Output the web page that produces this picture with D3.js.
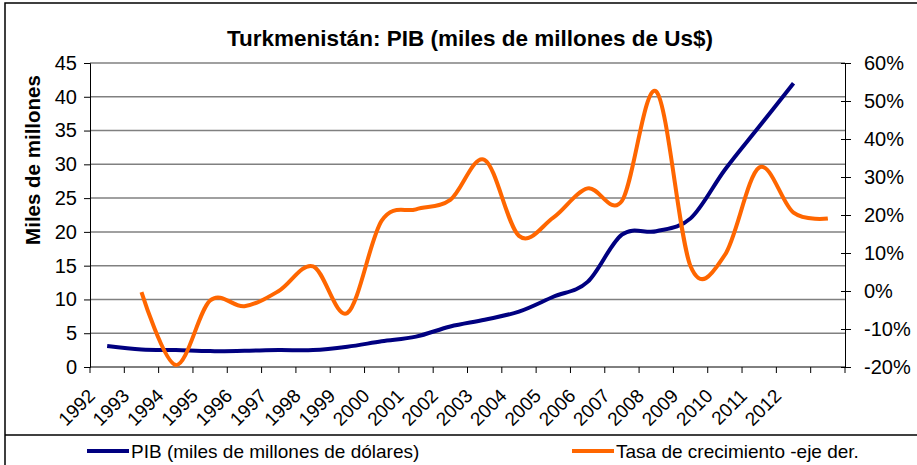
<!DOCTYPE html>
<html>
<head>
<meta charset="utf-8">
<script src="https://cdn.jsdelivr.net/npm/d3@7/dist/d3.min.js"></script>
<style>
  html, body { margin: 0; padding: 0; background: #fff; }
  svg { display: block; font-family: Arial, "Liberation Sans", sans-serif; }
</style>
</head>
<body>
<svg id="chart" width="917" height="465"></svg>
<script>
// Years on the category axis (last category carries no label)
const years = ["1992","1993","1994","1995","1996","1997","1998","1999","2000","2001","2002",
               "2003","2004","2005","2006","2007","2008","2009","2010","2011","2012","2013"];
const yearLabels = years.map(y => y === "2013" ? "" : y);

// GDP, billions of US$ (left axis), 1992–2012
const pib = [3.1, 2.6, 2.5, 2.35, 2.4, 2.5, 2.5, 3.0, 3.8, 4.5, 6.0,
             7.0, 8.2, 10.4, 12.6, 19.6, 20.1, 22.0, 29.2, 35.6, 42.0];

// Growth rate, % (right axis), 1993–2013
const tasa = [-0.3, -19.5, -2.5, -4.0, 0.0, 6.5, -5.8, 18.5, 21.5, 24.0,
              34.5, 14.5, 19.3, 27.0, 23.7, 52.5, 6.5, 9.5, 32.5, 20.6, 19.1];
const tasaYears = years.slice(1);

const leftTicks = [0, 5, 10, 15, 20, 25, 30, 35, 40, 45];
const rightTicks = [-20, -10, 0, 10, 20, 30, 40, 50, 60];

const svg = d3.select("#chart");
const W = 917, H = 465;
const plot = { left: 90, right: 845, top: 63, bottom: 367 };

svg.append("rect").attr("width", W).attr("height", H).attr("fill", "#fff");
// outer chart frame
svg.append("rect").attr("x", 5).attr("y", 3).attr("width", 930).attr("height", 480)
  .attr("fill", "none").attr("stroke", "#000").attr("stroke-width", 1.5);
// legend separator
svg.append("line").attr("x1", 5).attr("x2", W).attr("y1", 435).attr("y2", 435)
  .attr("stroke", "#000").attr("stroke-width", 1.5);

const x = d3.scaleBand().domain(years).range([plot.left, plot.right]).padding(0);
const cx = d => x(d) + x.bandwidth() / 2;
const yL = d3.scaleLinear().domain([0, 45]).range([plot.bottom, plot.top]);
const yR = d3.scaleLinear().domain([-20, 60]).range([plot.bottom, plot.top]);

// horizontal gridlines
svg.append("g").selectAll("line").data(leftTicks.filter(t => t > 0)).join("line")
  .attr("x1", plot.left).attr("x2", plot.right)
  .attr("y1", d => yL(d)).attr("y2", d => yL(d))
  .attr("stroke", "#808080").attr("stroke-width", 1.5);

// left axis
const gL = svg.append("g").attr("transform", `translate(${plot.left},0)`)
  .call(d3.axisLeft(yL).tickValues(leftTicks).tickSize(6).tickPadding(7));
gL.selectAll("text").attr("font-size", 20).attr("fill", "#000")
  .attr("font-family", "Arial, 'Liberation Sans', sans-serif");

// right axis (ticks cross the axis line)
const gR = svg.append("g").attr("transform", `translate(${plot.right},0)`)
  .call(d3.axisRight(yR).tickValues(rightTicks).tickSize(6).tickPadding(13)
    .tickFormat(d => d + "%"));
gR.selectAll(".tick line").attr("x1", -4);
gR.selectAll("text").attr("font-size", 20).attr("fill", "#000")
  .attr("font-family", "Arial, 'Liberation Sans', sans-serif");

// category axis
const gX = svg.append("g").attr("transform", `translate(0,${plot.bottom})`);
gX.append("line").attr("x1", plot.left).attr("x2", plot.right).attr("stroke", "#000");
const bounds = years.map(d => x(d)).concat([plot.right]);
gX.selectAll("line.tk").data(bounds).join("line").attr("class", "tk")
  .attr("x1", d => d).attr("x2", d => d).attr("y1", 0).attr("y2", 6).attr("stroke", "#000");
gX.selectAll("text").data(years).join("text")
  .attr("transform", d => `translate(${cx(d) - 11},30) rotate(-45)`)
  .attr("text-anchor", "end").attr("font-size", 19).attr("fill", "#000")
  .text((d, i) => yearLabels[i]);

svg.selectAll(".domain").attr("stroke", "#000");
svg.selectAll(".tick line").attr("stroke", "#000");

// series
const curve = d3.curveCardinal.tension(0);
svg.append("path").datum(pib)
  .attr("d", d3.line().x((d, i) => cx(years[i])).y(d => yL(d)).curve(curve))
  .attr("fill", "none").attr("stroke", "#000080").attr("stroke-width", 4)
  .attr("stroke-linejoin", "round");
svg.append("path").datum(tasa)
  .attr("d", d3.line().x((d, i) => cx(tasaYears[i])).y(d => yR(d)).curve(curve))
  .attr("fill", "none").attr("stroke", "#FF6600").attr("stroke-width", 4)
  .attr("stroke-linejoin", "round");

// title
svg.append("text").attr("x", 470).attr("y", 46).attr("text-anchor", "middle")
  .attr("font-size", 22.5).attr("font-weight", "bold")
  .text("Turkmenistán: PIB (miles de millones de Us$)");

// left axis title
svg.append("text").attr("transform", "translate(33,160) rotate(-90)")
  .attr("text-anchor", "middle").attr("dy", "0.35em")
  .attr("font-size", 20.5).attr("font-weight", "bold")
  .text("Miles de millones");

// legend
const legend = [
  { label: "PIB (miles de millones de dólares)", color: "#000080", x: 87 },
  { label: "Tasa de crecimiento -eje der.", color: "#FF6600", x: 572 }
];
const lg = svg.append("g").selectAll("g").data(legend).join("g")
  .attr("transform", d => `translate(${d.x},451)`);
lg.append("line").attr("x1", 0).attr("x2", 42).attr("stroke", d => d.color).attr("stroke-width", 4);
lg.append("text").attr("x", 44).attr("dy", "0.35em").attr("font-size", 19)
  .text(d => d.label);
</script>
</body>
</html>
